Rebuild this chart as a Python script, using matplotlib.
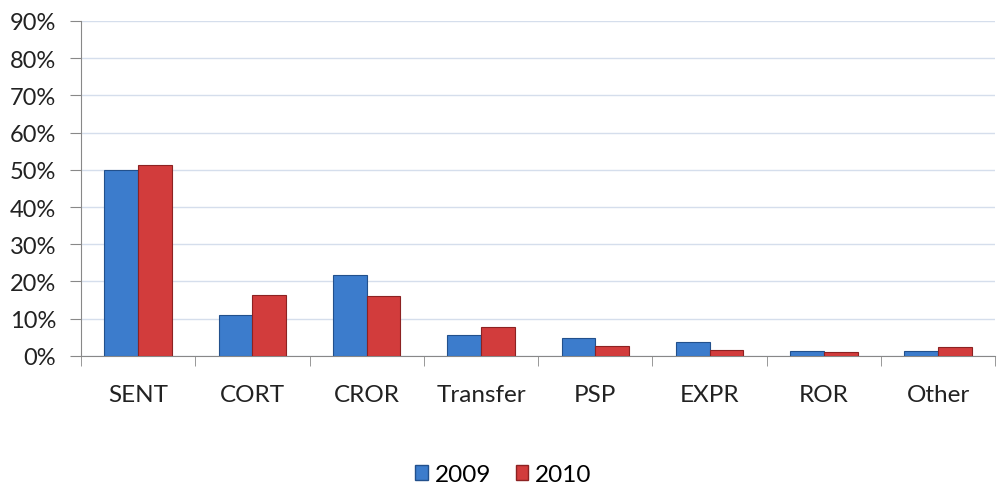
import numpy as np
import matplotlib.pyplot as plt
from matplotlib.patches import Patch

categories = ["SENT", "CORT", "CROR", "Transfer", "PSP", "EXPR", "ROR", "Other"]
values_2009 = [50.0, 11.0, 21.8, 5.5, 4.7, 3.7, 1.3, 1.2]
values_2010 = [51.2, 16.5, 16.2, 7.9, 2.6, 1.6, 1.0, 2.3]

plt.rcParams['font.family'] = ['Lato', 'DejaVu Sans']

blue = "#3c7ccc"
red = "#d23c3c"
blue_edge = "#22508c"
red_edge = "#8c2222"

fig = plt.figure(figsize=(9.97, 4.85), dpi=100)
ax = fig.add_axes([0.0813, 0.264, 0.917, 0.691])

x = np.arange(len(categories))
w = 0.295
ax.bar(x - w / 2, values_2009, w, color=blue, edgecolor=blue_edge, linewidth=0.8, zorder=3)
ax.bar(x + w / 2, values_2010, w, color=red, edgecolor=red_edge, linewidth=0.8, zorder=3)

ax.set_xlim(-0.5, len(categories) - 0.5)
ax.set_ylim(0, 90)
ax.set_yticks(np.arange(0, 91, 10))
ax.set_yticklabels([f"{v}%" for v in range(0, 91, 10)], fontsize=17, color="#222222")

ax.set_xticks(x)
ax.set_xticklabels(categories, fontsize=17.5, color="#222222")
ax.set_xticks(np.arange(-0.5, len(categories), 1), minor=True)
ax.tick_params(axis='x', which='major', length=0, pad=20)
ax.tick_params(axis='x', which='minor', length=7, color="#888888", direction='out')
ax.tick_params(axis='y', length=8, color="#888888", direction='out', pad=10)

ax.grid(axis='y', color="#d5deec", linewidth=1, zorder=0)
for s in ["top", "right"]:
    ax.spines[s].set_visible(False)
ax.spines["left"].set_color("#888888")
ax.spines["bottom"].set_color("#888888")

handles = [Patch(facecolor=blue, edgecolor=blue_edge, label="2009"),
           Patch(facecolor=red, edgecolor=red_edge, label="2010")]
fig.legend(handles=handles, loc='center', bbox_to_anchor=(0.505, 0.02), ncol=2,
           frameon=False, fontsize=17.5, handlelength=0.5, handleheight=0.6,
           handletextpad=0.3, columnspacing=1.0)

fig.savefig("out.png", dpi=100)
